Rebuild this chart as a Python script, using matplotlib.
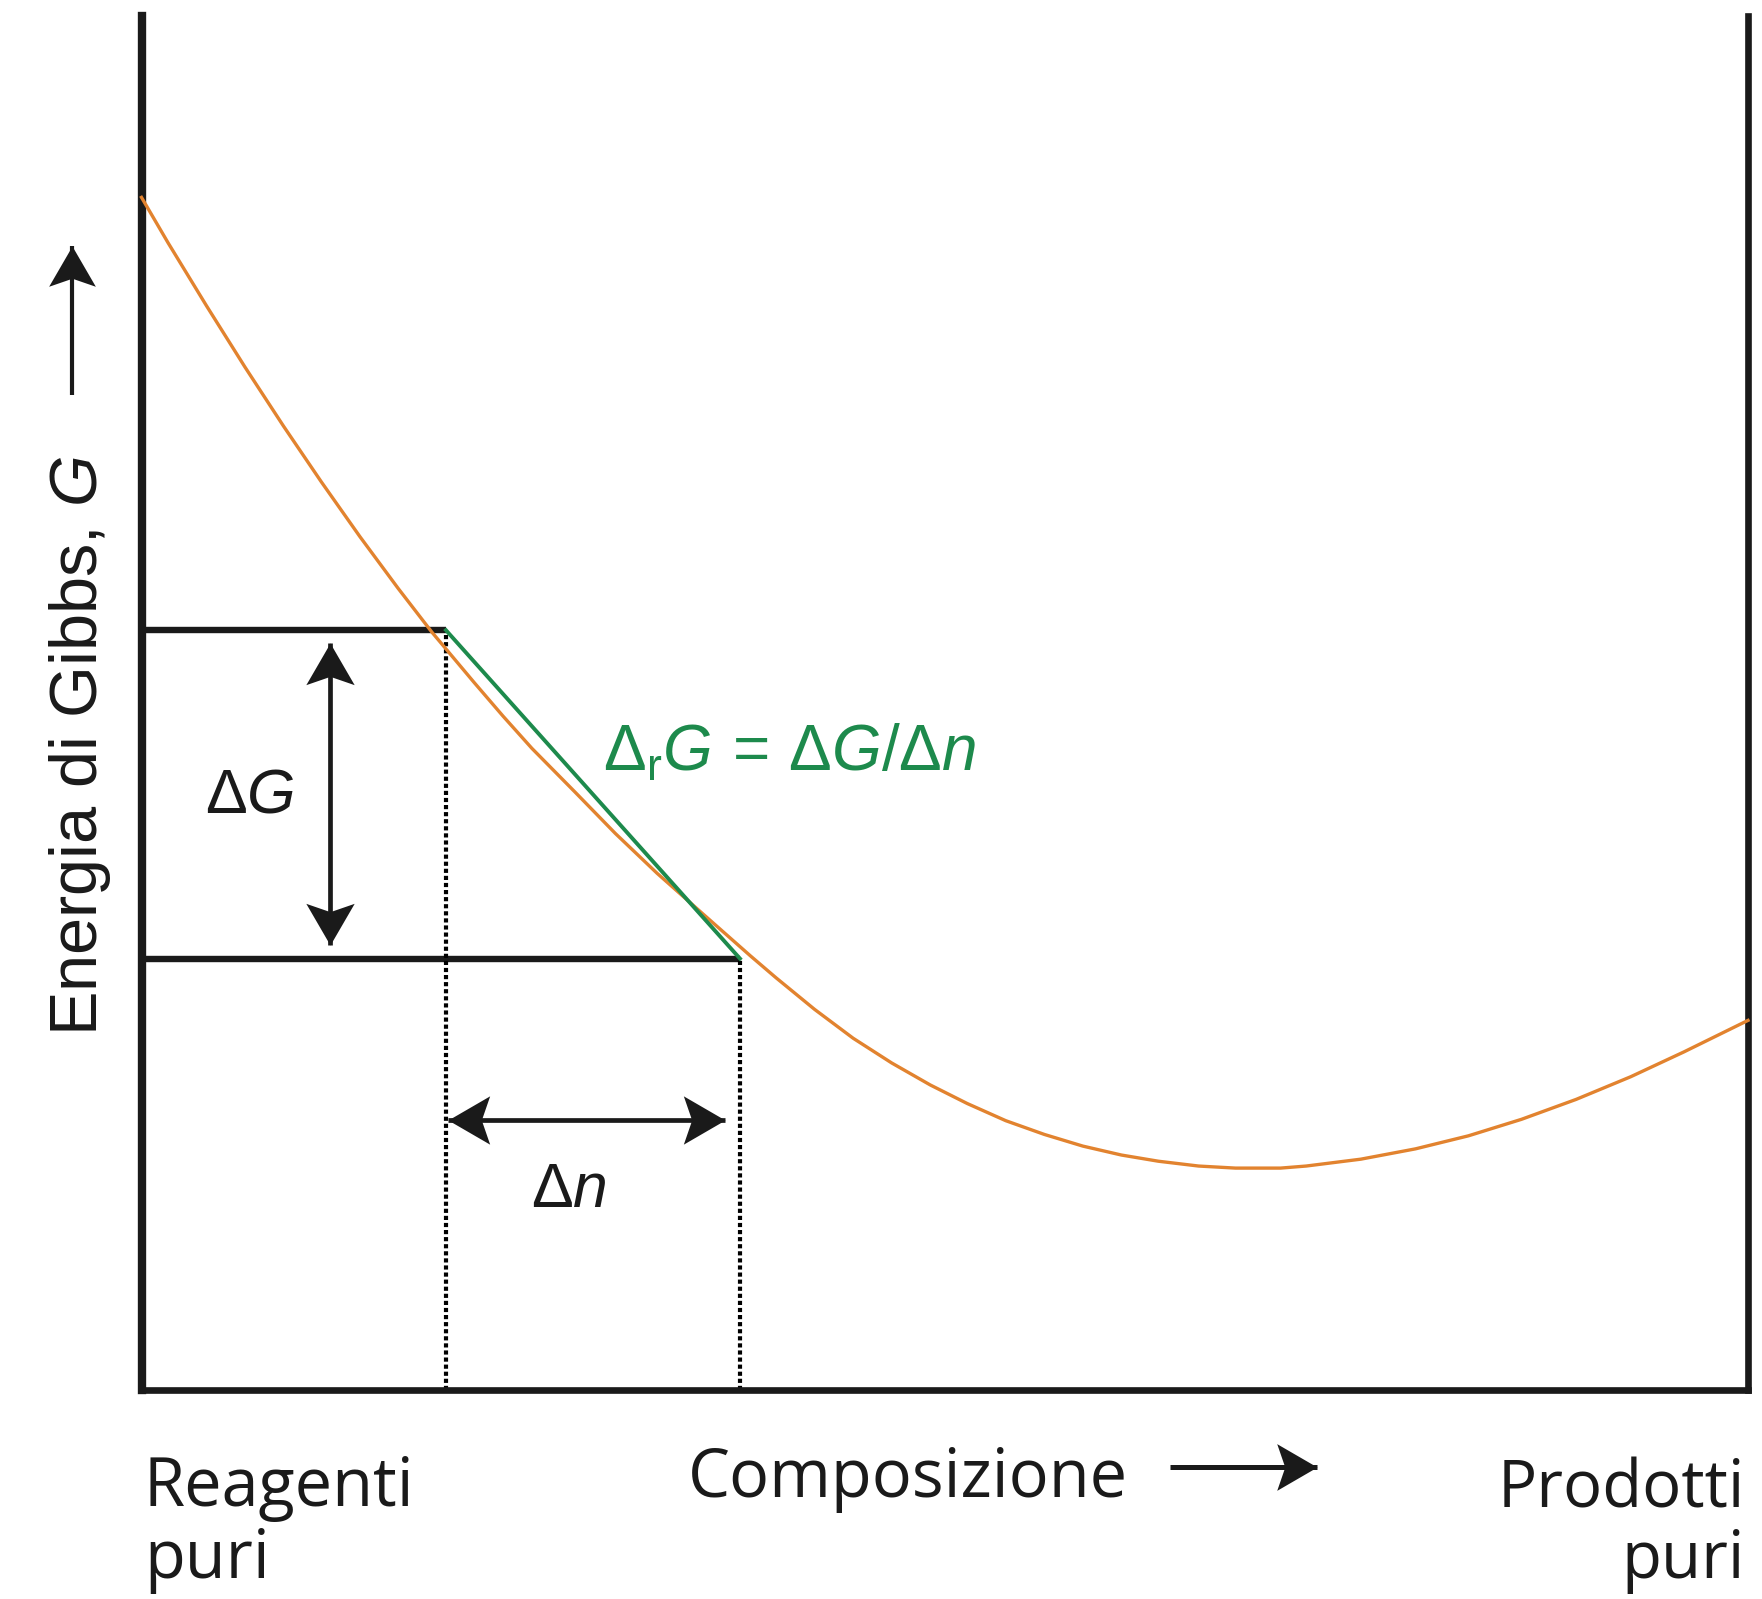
import matplotlib
matplotlib.use('Agg')
import matplotlib.pyplot as plt
import numpy as np
from matplotlib.lines import Line2D

W, H, DPI = 1762, 1599, 100

plt.rcParams['mathtext.fontset'] = 'custom'
plt.rcParams['mathtext.rm'] = 'Liberation Sans'
plt.rcParams['mathtext.it'] = 'Liberation Sans:italic'
plt.rcParams['font.family'] = ['Liberation Sans', 'DejaVu Sans']

INK = '#1a1a1a'
ORANGE = '#e2832f'
GREEN = '#1d8a4c'

# Gibbs energy along the reaction coordinate (0 = pure reactants, 100 = pure products)
composition = [0, 1.65, 4.05, 6.44, 8.84, 11.19, 13.6, 15.97, 18.08, 20.7,
               22.5, 24.3, 27.0, 29.5, 32.1, 34.8, 37.9, 39.5, 41.9, 44.3,
               46.7, 49.1, 51.4, 53.8, 56.2, 58.6, 61.0, 63.3, 65.8, 68.1,
               70.9, 72.5, 75.9, 79.3, 82.6, 85.9, 89.3, 92.7, 96.0, 100]
gibbs = [86.8, 83.5, 78.9, 74.45, 70.15, 66.1, 62.1, 58.35, 55.15, 51.5,
         49.05, 46.7, 43.5, 40.5, 37.6, 34.8, 31.6, 30.0, 27.7, 25.6,
         23.8, 22.2, 20.85, 19.6, 18.6, 17.75, 17.1, 16.65, 16.3, 16.15,
         16.15, 16.3, 16.8, 17.55, 18.5, 19.7, 21.15, 22.8, 24.6, 26.9]

# finite step: composition and G at both ends
n_step = [18.95, 37.25]
g_step = [55.3, 31.4]


def fx(px):
    return px / W


def fy(py):
    return 1 - py / H


def head(angle):
    # barbed arrow head, tip at the origin, pointing up before rotation
    v = np.array([(0, 0), (0.58, -1), (0, -0.8), (-0.58, -1), (0, 0)])
    a = np.deg2rad(angle)
    rot = np.array([[np.cos(a), -np.sin(a)], [np.sin(a), np.cos(a)]])
    return v @ rot.T


def arrow(parent, p0, p1, both=False, lw=3.4, ms=60, transform=None):
    # shaft from p0 to p1, head at p1 (and at p0 when both=True)
    t = transform if transform is not None else ax.transData
    (x0, y0), (x1, y1) = p0, p1
    parent.add_artist(Line2D([x0, x1], [y0, y1], color=INK, lw=lw,
                             solid_capstyle='butt', clip_on=False,
                             transform=t))
    ends = [(p1, p0)] + ([(p0, p1)] if both else [])
    for tip, tail in ends:
        # direction in pixels so the head lines up with the shaft
        d = t.transform(tip) - t.transform(tail)
        ang = np.degrees(np.arctan2(d[1], d[0])) - 90
        parent.add_artist(Line2D([tip[0]], [tip[1]], color=INK,
                                 marker=head(ang), markersize=ms,
                                 markeredgewidth=0, linestyle='none',
                                 clip_on=False, transform=t))


fig = plt.figure(figsize=(W / DPI, H / DPI), dpi=DPI)
ax = fig.add_axes([fx(141.5), fy(1390), (1748 - 141.5) / W, (1390 - 16) / H])
ax.set_xlim(0, 100)
ax.set_ylim(0, 100)
ax.set_xticks([])
ax.set_yticks([])
ax.spines['top'].set_visible(False)
ax.spines['left'].set_linewidth(6)
ax.spines['bottom'].set_linewidth(4.8)
ax.spines['right'].set_linewidth(4.8)
for s in ('left', 'bottom', 'right'):
    ax.spines[s].set_color(INK)

# step construction
ax.plot([0, n_step[0]], [g_step[0], g_step[0]], color=INK, lw=4.6,
        solid_capstyle='butt', zorder=2)
ax.plot([0, n_step[1]], [g_step[1], g_step[1]], color=INK, lw=4.6,
        solid_capstyle='butt', zorder=2)
for n, g in zip(n_step, g_step):
    ax.plot([n, n], [0, g], color='black', lw=3.0,
            linestyle=(0, (1, 0.7)), zorder=2)

ax.plot(composition, gibbs, color=ORANGE, lw=2.4, zorder=3, clip_on=False)
ax.plot(n_step, g_step, color=GREEN, lw=2.8, zorder=4)

arrow(ax, (11.73, 32.4), (11.73, 54.4), both=True)
arrow(ax, (36.3, 19.65), (19.08, 19.65), both=True)

ax.text(6.74, 42.0, r'$\Delta G$', fontsize=45, ha='center', va='baseline',
        color=INK)
ax.text(26.6, 13.3, r'$\Delta n$', fontsize=45, ha='center', va='baseline',
        color=INK)
ax.text(28.7, 45.1, r'$\Delta_{\mathrm{r}}G\,=\,\Delta G/\Delta n$',
        fontsize=46, ha='left', va='baseline', color=GREEN)

# axis labels
fig.text(fx(97), fy(1036), r'Energia di Gibbs, $G$', rotation=90,
         rotation_mode='anchor', ha='left', va='baseline', fontsize=48,
         color=INK)
arrow(fig, (fx(72), fy(395)), (fx(72), fy(246)), lw=3.0, ms=58,
      transform=fig.transFigure)

fig.text(fx(688), fy(1497), 'Composizione', ha='left', va='baseline',
         fontsize=48, family='Open Sans', color=INK)
arrow(fig, (fx(1170), fy(1467)), (fx(1317), fy(1467)), lw=3.6, ms=58,
      transform=fig.transFigure)

fig.text(fx(144), fy(1578), 'Reagenti\npuri', ha='left', va='baseline',
         fontsize=48, family='Open Sans', linespacing=1.09, color=INK)
fig.text(fx(1745), fy(1578), 'Prodotti\npuri', ha='right', va='baseline',
         multialignment='right', fontsize=47, family='Open Sans',
         linespacing=1.1, color=INK)

fig.savefig('out.png', dpi=DPI)
